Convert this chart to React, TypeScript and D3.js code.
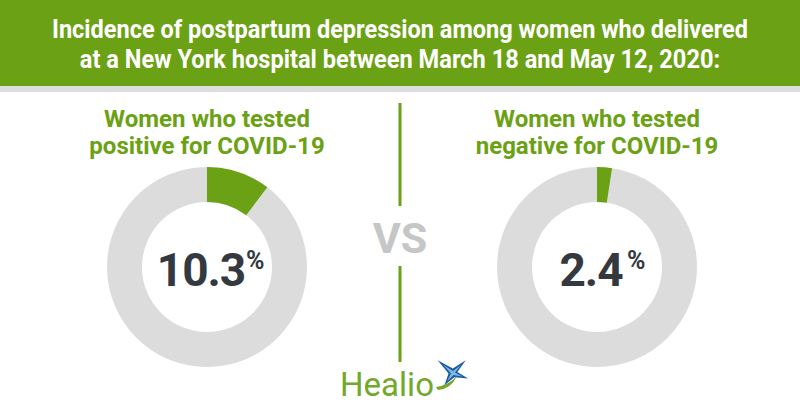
import React, { useLayoutEffect, useRef } from "react";
import * as d3 from "d3";

const titleLines = [
  "Incidence of postpartum depression among women who delivered",
  "at a New York hospital between March 18 and May 12, 2020:",
];
const titleWidths = [696, 640];
const groupLabels = [
  ["Women who tested", "positive for COVID-19"],
  ["Women who tested", "negative for COVID-19"],
];
const groupValues = [10.3, 2.4];
const valueLabels = ["10.3", "2.4"];

const W = 800;
const H = 420;
const GREEN = "#6ba114";
const GREY = "#dcdcdc";
const DARK = "#33393e";
const FONT = "Roboto, 'Noto Sans', sans-serif";

function starPath(cx: number, cy: number, tips: [number, number][], inner: number) {
  const pts: string[] = [];
  tips.forEach(([ang, len], k) => {
    const a = (ang * Math.PI) / 180;
    const next = tips[(k + 1) % tips.length][0];
    let mid = (ang + next) / 2;
    if (next < ang) mid = (ang + next + 360) / 2;
    const m = (mid * Math.PI) / 180;
    pts.push(`${cx + len * Math.cos(a)},${cy + len * Math.sin(a)}`);
    pts.push(`${cx + inner * Math.cos(m)},${cy + inner * Math.sin(m)}`);
  });
  return "M" + pts.join("L") + "Z";
}

export default function App() {
  const titleRef = useRef<SVGGElement>(null);
  const cx = d3.scalePoint<number>().domain([0, 1]).range([207, 597]);
  const cy = 267;
  const pct = d3.scaleLinear().domain([0, 100]).range([0, 2 * Math.PI]);
  const arc = d3.arc<any>().innerRadius(65).outerRadius(100);

  useLayoutEffect(() => {
    if (!titleRef.current) return;
    d3.select(titleRef.current)
      .selectAll<SVGTextElement, unknown>("text")
      .each(function (_, i) {
        const t = this as SVGTextElement;
        const w = t.getComputedTextLength();
        const s = titleWidths[i] / w;
        t.setAttribute("transform", `translate(400,0) scale(${s},1)`);
      });
  }, []);

  return (
    <svg width={W} height={H} style={{ position: "absolute", left: 0, top: 0 }}>
      <rect x={0} y={0} width={W} height={H} fill="#ffffff" />
      <rect x={0} y={0} width={W} height={86} fill={GREEN} />
      <rect x={0} y={86} width={W} height={6} fill="#dedede" />
      <g ref={titleRef}>
        {titleLines.map((t, i) => (
          <text key={i} x={0} y={38 + i * 30} fill="#fff" fontFamily={FONT} fontWeight={700} fontSize={26}
            textAnchor="middle" transform="translate(400,0) scale(0.8,1)">{t}</text>
        ))}
      </g>

      {groupValues.map((v, i) => {
        const x = cx(i)!;
        return (
          <g key={i}>
            {groupLabels[i].map((l, j) => (
              <text key={j} x={x} y={127 + j * 27} fill={GREEN} fontFamily={FONT} fontWeight={700}
                fontSize={24} textAnchor="middle">{l}</text>
            ))}
            <g transform={`translate(${x},${cy})`}>
              <path d={arc({ startAngle: 0, endAngle: 2 * Math.PI })!} fill={GREY} />
              <path d={arc({ startAngle: 0, endAngle: pct(v) })!} fill={GREEN} />
              <text x={-6} y={19} fill={DARK} fontFamily={FONT} fontWeight={700} fontSize={46}
                textAnchor="middle" letterSpacing={-1}>{valueLabels[i]}</text>
              <text x={i === 0 ? 39 : 30} y={2} fill={DARK} fontFamily={FONT} fontWeight={700} fontSize={25}
                textAnchor="start">%</text>
            </g>
          </g>
        );
      })}

      <line x1={400} x2={400} y1={103} y2={206} stroke={GREEN} strokeWidth={3} />
      <line x1={400} x2={400} y1={266} y2={362} stroke={GREEN} strokeWidth={3} />
      <text x={400} y={253} fill="#c6c6c6" fontFamily={FONT} fontWeight={700} fontSize={43}
        textAnchor="middle">VS</text>

      <text x={340} y={396} fill="#72a92a" fontFamily={FONT} fontWeight={400} fontSize={33}
        textAnchor="start" textLength={94} lengthAdjust="spacingAndGlyphs">Healio</text>
      <path d={starPath(453, 373, [[-140, 20], [-45, 18], [20, 16], [125, 15]], 4.5)}
        fill="#1d5c9e" />
      <path d={starPath(453, 373, [[-140, 13], [-45, 11], [20, 10], [125, 10]], 2)}
        fill="#7fb8e6" />
      <path d="M436,387 Q449,385 457,376 Q451,389 438,390 Z" fill="#72a92a" />
    </svg>
  );
}
